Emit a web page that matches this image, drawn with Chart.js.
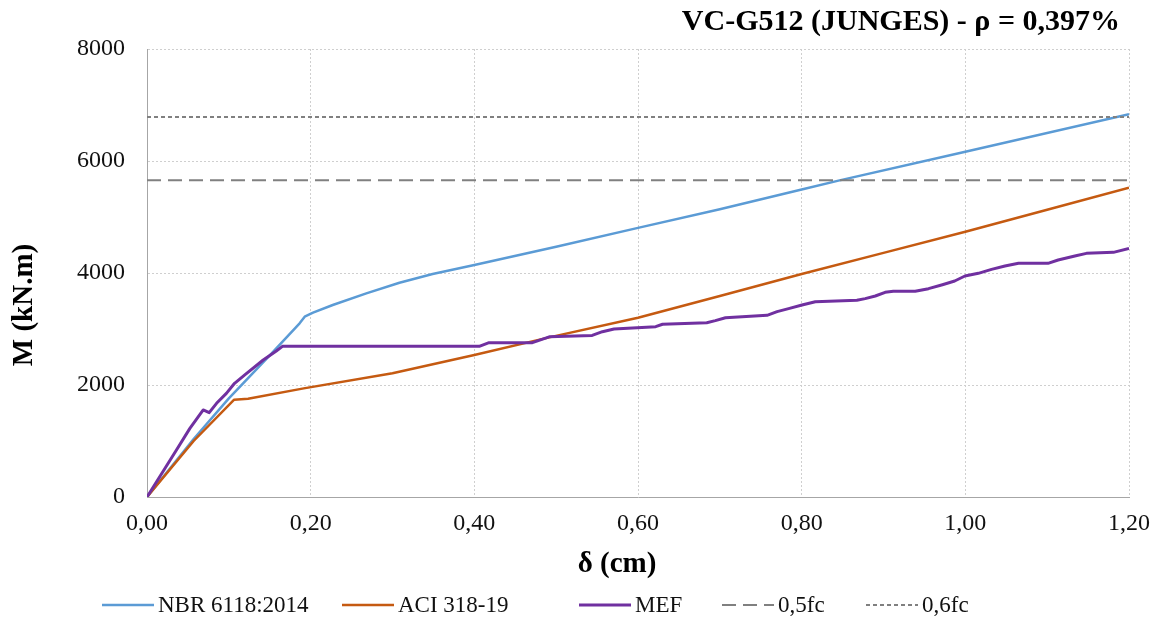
<!DOCTYPE html>
<html>
<head>
<meta charset="utf-8">
<script src="https://cdn.jsdelivr.net/npm/chart.js@4/dist/chart.umd.min.js"></script>
<style>
  html, body { margin: 0; padding: 0; background: #fff; }
  #wrap { width: 1162px; height: 620px; position: relative; }
</style>
</head>
<body>
<div id="wrap"><canvas id="c" width="1162" height="620"></canvas></div>
<script>
// Moment-deflection curves of beam VC-G512
const chartTitle = 'VC-G512 (JUNGES) - ρ = 0,397%';
const xTitle = 'δ (cm)';
const yTitle = 'M (kN.m)';

const xTickValues = [0, 0.2, 0.4, 0.6, 0.8, 1.0, 1.2];
const xTickLabels = ['0,00', '0,20', '0,40', '0,60', '0,80', '1,00', '1,20'];
const yTickValues = [0, 2000, 4000, 6000, 8000];
const yTickLabels = ['0', '2000', '4000', '6000', '8000'];

// NBR 6118:2014
const nbrX = [0, 0.057, 0.1, 0.15, 0.1865, 0.1927, 0.2029, 0.227, 0.268, 0.3085, 0.349, 0.4, 0.5, 0.6, 0.7, 0.8, 0.845, 1.0, 1.2];
const nbrM = [0, 1036, 1760, 2530, 3101, 3220, 3291, 3429, 3637, 3827, 3982, 4143, 4470, 4806, 5140, 5490, 5650, 6166, 6834];

// ACI 318-19
const aciX = [0, 0.057, 0.1065, 0.1235, 0.1915, 0.3, 0.4, 0.4915, 0.6, 0.7, 0.8, 0.9, 1.0, 1.1, 1.2];
const aciM = [0, 1000, 1738, 1755, 1940, 2210, 2536, 2851, 3202, 3590, 3982, 4360, 4738, 5130, 5523];

// MEF (finite element model)
const mefX = [0, 0.036, 0.0524, 0.0687, 0.076, 0.085, 0.097, 0.107, 0.1195, 0.142, 0.158, 0.1655, 0.406, 0.418, 0.471, 0.4915, 0.544, 0.5565, 0.5707, 0.6216, 0.63, 0.684, 0.6945, 0.7069, 0.7577, 0.77, 0.784, 0.8004, 0.8167, 0.8675, 0.8776, 0.89, 0.902, 0.912, 0.9387, 0.955, 0.972, 0.987, 0.9995, 1.0159, 1.032, 1.0484, 1.065, 1.101, 1.1134, 1.1338, 1.148, 1.181, 1.2];
const mefM = [0, 839, 1226, 1554, 1506, 1673, 1851, 2030, 2180, 2446, 2607, 2690, 2690, 2756, 2756, 2860, 2885, 2952, 3000, 3042, 3085, 3113, 3150, 3202, 3244, 3310, 3363, 3429, 3488, 3512, 3542, 3589, 3655, 3675, 3675, 3720, 3790, 3857, 3946, 3994, 4065, 4125, 4173, 4173, 4232, 4304, 4351, 4369, 4440];

// Reference levels
const levelX = [0, 1.2];
const halfFc = 5655;
const sixTenthsFc = 6786;

const serif = '"Liberation Serif", "Times New Roman", serif';
const pts = (xs, ys) => xs.map((x, i) => ({ x: x, y: ys[i] }));

// Legend layout: where each entry's text starts, key line length and gap
const legendTextStart = [158, 398, 635, 778, 922];
const legendKeyLen = 52;
const legendKeyGap = 4;
const legendY = 605;

// Draws the chart title, the axis titles and the legend row
const annotations = {
  id: 'annotations',
  afterDraw(chart) {
    const { ctx, chartArea } = chart;
    ctx.save();
    ctx.fillStyle = '#000';
    ctx.textBaseline = 'middle';

    ctx.font = 'bold 30px ' + serif;
    ctx.textAlign = 'right';
    ctx.fillText(chartTitle, chartArea.right - 9, 22);

    ctx.font = 'bold 29px ' + serif;
    ctx.textAlign = 'center';
    ctx.fillText(xTitle, (chartArea.left + chartArea.right) / 2 - 21, chartArea.bottom + 68);

    ctx.save();
    ctx.translate(25, (chartArea.top + chartArea.bottom) / 2 + 32);
    ctx.rotate(-Math.PI / 2);
    ctx.fillText(yTitle, 0, 0);
    ctx.restore();

    // legend
    ctx.font = '23px ' + serif;
    ctx.textAlign = 'left';
    chart.data.datasets.forEach((d, i) => {
      const tx = legendTextStart[i];
      const x1 = tx - legendKeyGap;
      ctx.save();
      ctx.strokeStyle = d.borderColor;
      ctx.lineWidth = d.borderWidth;
      ctx.setLineDash(d.borderDash || []);
      ctx.beginPath();
      ctx.moveTo(x1 - legendKeyLen, legendY);
      ctx.lineTo(x1, legendY);
      ctx.stroke();
      ctx.restore();
      ctx.fillStyle = '#111';
      ctx.fillText(d.label, tx, legendY + 1);
    });
    ctx.restore();
  }
};

const gridStyle = { color: '#cfcfcf', lineWidth: 1, drawTicks: false };
const borderStyle = { display: true, color: '#a6a6a6', width: 1, dash: [2, 2] };

new Chart(document.getElementById('c'), {
  type: 'line',
  data: {
    datasets: [
      { label: 'NBR 6118:2014', data: pts(nbrX, nbrM), borderColor: '#5B9BD5', borderWidth: 2.5, order: 5 },
      { label: 'ACI 318-19', data: pts(aciX, aciM), borderColor: '#C55A11', borderWidth: 2.5, order: 4 },
      { label: 'MEF', data: pts(mefX, mefM), borderColor: '#7030A0', borderWidth: 3, order: 3 },
      { label: '0,5fc', data: pts(levelX, [halfFc, halfFc]), borderColor: '#808080', borderWidth: 2, borderDash: [14, 7], order: 2 },
      { label: '0,6fc', data: pts(levelX, [sixTenthsFc, sixTenthsFc]), borderColor: '#808080', borderWidth: 2, borderDash: [4, 3], order: 1 }
    ]
  },
  options: {
    responsive: false,
    animation: false,
    devicePixelRatio: 1,
    layout: { padding: { left: 0, right: 31, top: 49, bottom: 83 } },
    elements: {
      point: { radius: 0, hoverRadius: 0 },
      line: { tension: 0, fill: false, borderCapStyle: 'butt', borderJoinStyle: 'round' }
    },
    plugins: {
      legend: { display: false },
      title: { display: false },
      tooltip: { enabled: false }
    },
    scales: {
      x: {
        type: 'linear',
        min: 0,
        max: 1.2,
        afterBuildTicks: s => { s.ticks = xTickValues.map(v => ({ value: v })); },
        afterFit: s => { s.height = 40; },
        ticks: {
          padding: 12,
          color: '#111',
          font: { family: serif, size: 24 },
          maxRotation: 0,
          autoSkip: false,
          callback: (v, i) => xTickLabels[i]
        },
        grid: Object.assign({ borderDash: [2, 2] }, gridStyle),
        border: borderStyle
      },
      y: {
        type: 'linear',
        min: 0,
        max: 8000,
        afterBuildTicks: s => { s.ticks = yTickValues.map(v => ({ value: v })); },
        afterFit: s => { s.width = 147; },
        ticks: {
          padding: 22,
          color: '#111',
          font: { family: serif, size: 24 },
          autoSkip: false,
          callback: (v, i) => yTickLabels[i]
        },
        grid: gridStyle,
        border: borderStyle
      }
    }
  },
  plugins: [annotations]
});
</script>
</body>
</html>
